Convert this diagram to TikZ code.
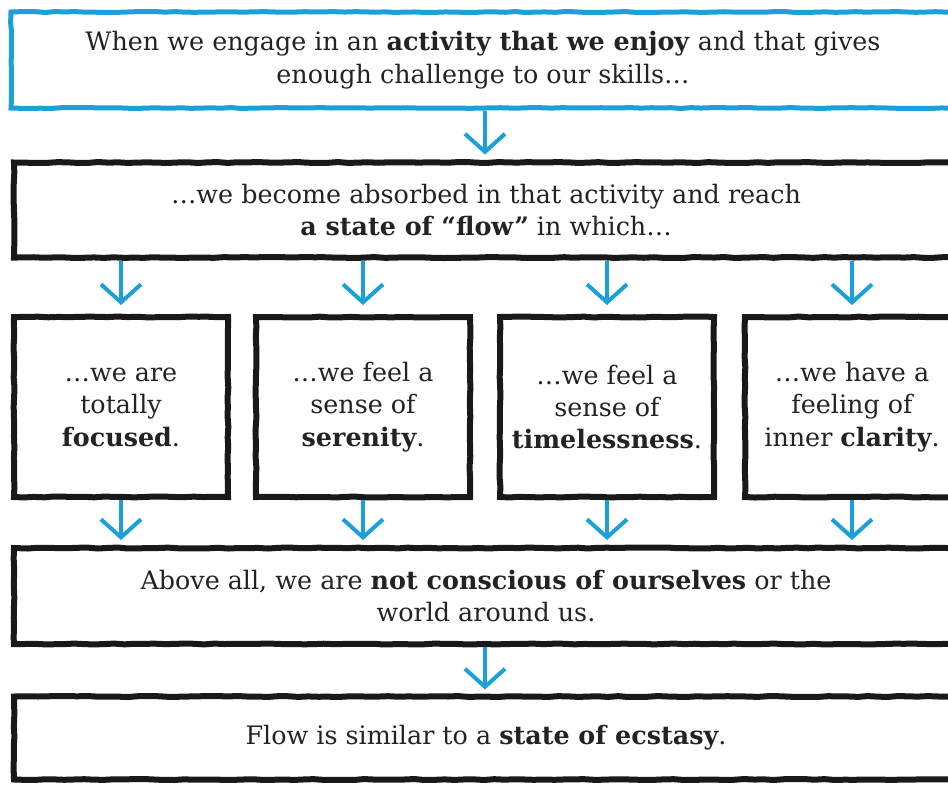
\documentclass[tikz,border=0pt]{standalone}
\usepackage{fontspec}
\setmainfont{DejaVu Serif}
\usepackage{tikz}
\usetikzlibrary{arrows.meta,decorations.pathmorphing}
\definecolor{flowblue}{RGB}{27,160,216}
\definecolor{flowink}{RGB}{38,34,35}

\begin{document}
\begin{tikzpicture}[x=0.5pt,y=-0.5pt,
  sketch/.style={draw=black!90,line width=3pt,fill=white,text=flowink,align=center,
    decorate,decoration={random steps,segment length=5pt,amplitude=0.25pt},
    font=\fontsize{12.7}{16.2}\selectfont,inner sep=0pt},
  wide/.style={sketch,minimum width=472pt,minimum height=#1},
  colbox/.style={sketch,minimum width=107pt,minimum height=90pt},
  down/.style={draw=flowblue,line width=2pt,
    -{Straight Barb[length=9pt,width=20pt,line width=2pt]}}]
  \useasboundingbox (0,0) rectangle (948,784);
  \clip (0,0) rectangle (948,784);
  \fill[white] (0,0) rectangle (948,784);
  \coordinate (mid) at (485,0);

  \node[wide=48pt,draw=flowblue,line width=2.5pt] (enjoy) at (483,60)
    {When we engage in an \textbf{activity that we enjoy} and that gives\\enough challenge to our skills…};
  \node[wide=47.5pt] (absorb) at (486,210)
    {…we become absorbed in that activity and reach\\\textbf{a state of ``flow''} in which…};
  \node[colbox] (focus) at (121,407) {…we are\\totally\\\textbf{focused}.};
  \node[colbox] (seren) at (363,407) {…we feel a\\sense of\\\textbf{serenity}.};
  \node[colbox] (timeless) at (607,407) {…we feel a\\sense of\\\textbf{timelessness}.};
  \node[colbox] (clarity) at (852,407) {…we have a\\feeling of\\inner \textbf{clarity}.};
  \node[wide=48pt] (self) at (486,596)
    {Above all, we are \textbf{not conscious of ourselves} or the\\world around us.};
  \node[wide=41.5pt] (ecstasy) at (486,738)
    {Flow is similar to a \textbf{state of ecstasy}.};

  \draw[down,shorten >=2.5pt] (enjoy.south -| mid) -- (absorb.north -| mid);
  \foreach \c in {focus,seren,timeless,clarity}{
    \draw[down,shorten >=4.5pt] (absorb.south -| \c.north) -- (\c.north);
    \draw[down,shorten >=2.5pt] (\c.south) -- (self.north -| \c.south);
  }
  \draw[down,shorten >=2pt] (self.south -| mid) -- (ecstasy.north -| mid);
\end{tikzpicture}
\end{document}
